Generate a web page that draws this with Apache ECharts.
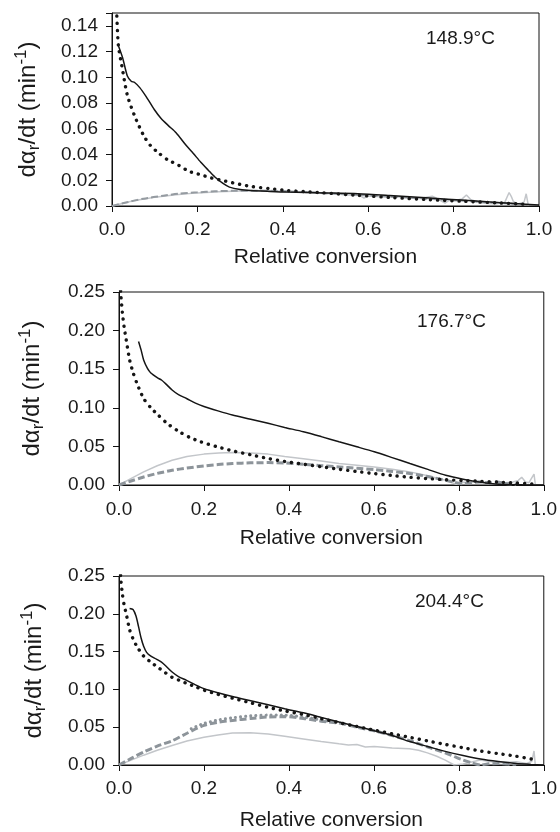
<!DOCTYPE html>
<html>
<head>
<meta charset="utf-8">
<script src="https://cdn.jsdelivr.net/npm/echarts@6/dist/echarts.min.js"></script>
<style>html,body{margin:0;padding:0;background:#fff;}#c{width:560px;height:832px;}</style>
</head>
<body>
<div id="c"></div>
<script>
// ---------- data ----------
const temps = ['148.9°C', '176.7°C', '204.4°C'];
const yMax = [0.15, 0.25, 0.25];
const yStep = [0.02, 0.05, 0.05];

// Panel 1 (148.9°C)
const p1SolidX = [0.015,0.025,0.036,0.045,0.053,0.065,0.08,0.099,0.115,0.132,0.15,0.174,0.19,0.208,0.225,0.241,0.26,0.275,0.3,0.325,0.37,0.409,0.5,0.576,0.65,0.744,0.827,0.911,0.96,1.0];
const p1SolidY = [0.1245,0.115,0.101,0.097,0.096,0.092,0.085,0.075,0.068,0.0625,0.057,0.047,0.041,0.034,0.028,0.0225,0.0175,0.0147,0.0128,0.012,0.0113,0.0108,0.0102,0.0096,0.0082,0.0062,0.0044,0.0026,0.0015,0.0008];
const p1DotX = [0.008,0.011,0.015,0.023,0.036,0.053,0.074,0.09,0.107,0.13,0.157,0.18,0.208,0.23,0.258,0.29,0.325,0.37,0.409,0.45,0.492,0.576,0.66,0.744,0.827,0.911,0.97];
const p1DotY = [0.175,0.15,0.1245,0.109,0.086,0.070,0.0548,0.047,0.0418,0.036,0.0315,0.027,0.0243,0.022,0.0199,0.0175,0.0152,0.0135,0.0121,0.0112,0.0103,0.0083,0.0065,0.0049,0.0036,0.0023,0.0013];
const p1DashX = [0,0.03,0.074,0.12,0.157,0.2,0.241,0.28,0.325,0.37,0.409,0.45,0.5,0.6,0.7,0.8,0.9,0.96];
const p1DashY = [0,0.0025,0.0057,0.008,0.0096,0.0106,0.0114,0.0118,0.0119,0.0118,0.0114,0.0108,0.010,0.0082,0.0064,0.0045,0.0025,0.0012];
const p1LightX = [0,0.05,0.1,0.15,0.2,0.25,0.3,0.35,0.4,0.43,0.45,0.5,0.53,0.55,0.58,0.59,0.6,0.63,0.65,0.7,0.72,0.75,0.76,0.78,0.79,0.8,0.82,0.83,0.84,0.86,0.88,0.9,0.92,0.93,0.935,0.94,0.95,0.965,0.97,0.975];
const p1LightY = [0,0.004,0.0068,0.0088,0.0102,0.011,0.0116,0.012,0.0115,0.0108,0.0112,0.0098,0.0093,0.0085,0.0082,0.0062,0.0078,0.0072,0.0074,0.0064,0.0058,0.0076,0.006,0.0022,0.0045,0.004,0.0055,0.0085,0.005,0.0025,0.002,0.0018,0.003,0.0105,0.0075,0.0035,0.0015,0.003,0.0095,0.0005];

// Panel 2 (176.7°C)
const p2SolidX = [0.046,0.052,0.058,0.067,0.075,0.09,0.1,0.112,0.125,0.14,0.159,0.18,0.2,0.233,0.267,0.31,0.351,0.39,0.434,0.476,0.518,0.56,0.601,0.643,0.685,0.727,0.769,0.81,0.852,0.894,0.95,1.0];
const p2SolidY = [0.186,0.175,0.162,0.151,0.145,0.139,0.136,0.130,0.123,0.117,0.112,0.106,0.1016,0.096,0.0907,0.0853,0.0799,0.0746,0.069,0.0627,0.056,0.0495,0.043,0.0355,0.0278,0.0202,0.0126,0.0075,0.0035,0.001,0.0003,0];
const p2DotX = [0.002,0.004,0.008,0.012,0.017,0.025,0.033,0.042,0.058,0.075,0.092,0.115,0.142,0.165,0.192,0.23,0.267,0.31,0.351,0.39,0.434,0.476,0.518,0.56,0.601,0.643,0.685,0.727,0.769,0.81,0.852,0.894,0.936,0.973];
const p2DotY = [0.27,0.249,0.223,0.205,0.188,0.162,0.146,0.132,0.112,0.1,0.0907,0.079,0.069,0.062,0.056,0.0497,0.0443,0.0392,0.0343,0.0305,0.0269,0.0236,0.0204,0.0175,0.0148,0.0123,0.010,0.0083,0.0069,0.0058,0.0048,0.0037,0.0026,0.0013];
const p2LightX = [0,0.03,0.058,0.09,0.125,0.16,0.2,0.235,0.267,0.31,0.351,0.39,0.434,0.476,0.518,0.56,0.601,0.643,0.685,0.727,0.769,0.794,0.81,0.827,0.845,0.86,0.878,0.894,0.91,0.927,0.94,0.948,0.957,0.965,0.977,0.98];
const p2LightY = [0,0.009,0.017,0.025,0.032,0.037,0.040,0.0415,0.042,0.0415,0.040,0.037,0.034,0.031,0.028,0.0257,0.0234,0.0205,0.017,0.012,0.006,0.001,0.0035,0.0026,0.005,0.004,0.0015,0.0017,0.003,0.004,0.006,0.010,0.004,0.003,0.014,0.001];
const p2DashX = [0,0.03,0.058,0.09,0.125,0.16,0.2,0.233,0.267,0.31,0.351,0.39,0.434,0.476,0.518,0.56,0.601,0.643,0.685,0.727,0.769,0.79,0.81,0.83,0.85,0.87,0.89,0.91,0.935];
const p2DashY = [0,0.0055,0.0104,0.015,0.019,0.022,0.0247,0.0265,0.0278,0.0287,0.029,0.0285,0.027,0.025,0.0234,0.0218,0.020,0.0176,0.0148,0.011,0.006,0.0035,0.0017,0.003,0.004,0.0028,0.004,0.002,0.001];

// Panel 3 (204.4°C)
const p3SolidX = [0.025,0.033,0.04,0.046,0.052,0.058,0.065,0.075,0.088,0.1,0.112,0.125,0.14,0.159,0.18,0.2,0.233,0.267,0.31,0.351,0.39,0.434,0.476,0.518,0.56,0.601,0.643,0.684,0.726,0.768,0.81,0.851,0.893,0.935,0.97,1.0];
const p3SolidY = [0.207,0.2056,0.197,0.183,0.168,0.157,0.149,0.144,0.14,0.136,0.13,0.123,0.117,0.112,0.106,0.101,0.0955,0.0905,0.085,0.0797,0.0745,0.069,0.063,0.0569,0.051,0.0453,0.039,0.031,0.0245,0.018,0.0125,0.0078,0.0045,0.002,0.0008,0];
const p3DotX = [0.002,0.004,0.008,0.012,0.017,0.025,0.033,0.042,0.058,0.075,0.092,0.108,0.125,0.142,0.159,0.18,0.2,0.233,0.267,0.31,0.351,0.39,0.434,0.476,0.518,0.56,0.601,0.643,0.684,0.726,0.768,0.81,0.851,0.893,0.935,0.972];
const p3DotY = [0.27,0.248,0.226,0.212,0.2,0.179,0.167,0.157,0.144,0.136,0.129,0.1225,0.116,0.112,0.108,0.1035,0.099,0.0935,0.0884,0.0822,0.0763,0.0715,0.0668,0.0614,0.056,0.051,0.0461,0.0413,0.0366,0.0319,0.0272,0.0228,0.0185,0.015,0.0116,0.0078];
const p3DashX = [0,0.03,0.058,0.09,0.125,0.16,0.2,0.233,0.267,0.31,0.351,0.39,0.434,0.476,0.518,0.56,0.601,0.643,0.684,0.726,0.768,0.79,0.81,0.83,0.851,0.87,0.893,0.915,0.935];
const p3DashY = [0,0.009,0.0172,0.025,0.032,0.042,0.0525,0.0565,0.059,0.0615,0.0635,0.064,0.0616,0.058,0.0555,0.050,0.0453,0.039,0.0323,0.024,0.016,0.011,0.0065,0.003,0,0.0015,0.002,0.0012,0.001];
const p3GrayDotX = [0.17,0.2,0.233,0.267,0.31,0.351,0.39,0.434,0.476,0.5];
const p3GrayDotY = [0.048,0.055,0.0595,0.0625,0.065,0.066,0.066,0.0635,0.0595,0.057];
const p3LightX = [0,0.03,0.058,0.09,0.125,0.16,0.2,0.233,0.267,0.309,0.351,0.39,0.434,0.476,0.518,0.54,0.56,0.58,0.601,0.643,0.684,0.705,0.726,0.748,0.768,0.789,0.81,0.83,0.85,0.87,0.893,0.915,0.935,0.96,0.972,0.977,0.98];
const p3LightY = [0,0.0068,0.013,0.0195,0.0259,0.0318,0.0366,0.0398,0.0422,0.0427,0.041,0.038,0.0345,0.031,0.028,0.0265,0.027,0.0238,0.0246,0.0225,0.0216,0.0195,0.016,0.0115,0.0065,0,0.0013,0.004,0.0065,0.005,0.003,0.0038,0.0043,0.002,0.005,0.0185,0];

// ---------- chart ----------
const zip = (xs, ys) => xs.map((x, i) => [x, ys[i]]);
const FONT = 'Liberation Sans, Arial, sans-serif';
const TXT = '#1a1a1a';

const grids = [
  {left: 112, top: 13, width: 427, height: 193},
  {left: 119, top: 292, width: 426, height: 193},
  {left: 119, top: 576, width: 426, height: 192}
];
const xNameGap = [41, 43, 45];
const xLabelMargin = [14, 15, 14];
const yNameGap = [69, 72, 70];

const styles = {
  solid: {color: '#151515', width: 1.5, type: 'solid'},
  dot: {color: '#151515', width: 3.4, type: [0.1, 7], cap: 'round'},
  light: {color: '#c3c6ca', width: 1.5, type: 'solid'},
  dash: {color: '#8d949a', width: 3, type: [7, 3]},
  dash1: {color: '#959ba1', width: 2, type: [7, 3]},
  grayDot: {color: '#8d949a', width: 3, type: [0.1, 5], cap: 'round'}
};

const panels = [
  [['light', p1LightX, p1LightY], ['dash1', p1DashX, p1DashY], ['solid', p1SolidX, p1SolidY], ['dot', p1DotX, p1DotY]],
  [['light', p2LightX, p2LightY], ['dash', p2DashX, p2DashY], ['solid', p2SolidX, p2SolidY], ['dot', p2DotX, p2DotY]],
  [['light', p3LightX, p3LightY], ['grayDot', p3GrayDotX, p3GrayDotY], ['dash', p3DashX, p3DashY], ['solid', p3SolidX, p3SolidY], ['dot', p3DotX, p3DotY]]
];

const isGridMultiple = i => Math.abs(Math.round(yMax[i] / yStep[i]) * yStep[i] - yMax[i]) < 1e-9;

const option = {
  animation: false,
  backgroundColor: '#fff',
  grid: grids.map(g => Object.assign({show: true, borderColor: '#111', borderWidth: 1, backgroundColor: 'transparent'}, g)),
  xAxis: grids.map((g, i) => ({
    type: 'value', gridIndex: i, min: 0, max: 1, interval: 0.2,
    name: 'Relative conversion', nameLocation: 'middle', nameGap: xNameGap[i],
    nameTextStyle: {fontFamily: FONT, fontSize: 21, color: TXT},
    axisLine: {show: true, lineStyle: {color: '#111', width: 1}},
    axisTick: {show: true, inside: false, length: 6, lineStyle: {color: '#111'}},
    axisLabel: {fontFamily: FONT, fontSize: 19, color: TXT, margin: xLabelMargin[i], formatter: v => v.toFixed(1)},
    splitLine: {show: false}
  })),
  yAxis: grids.map((g, i) => ({
    type: 'value', gridIndex: i, min: 0, max: yMax[i], interval: yStep[i],
    name: '{n|dα}{sub|r}{n|/dt (min}{sup|-1}{n|)}',
    nameLocation: 'middle', nameRotate: 90, nameGap: yNameGap[i],
    nameTextStyle: {
      fontFamily: FONT, fontSize: 24, color: TXT,
      rich: {
        n: {fontFamily: FONT, fontSize: 24, color: TXT, lineHeight: 30},
        sub: {fontFamily: FONT, fontSize: 17, color: TXT, verticalAlign: 'bottom', lineHeight: 17},
        sup: {fontFamily: FONT, fontSize: 17, color: TXT, verticalAlign: 'top', lineHeight: 17}
      }
    },
    axisLine: {show: true, lineStyle: {color: '#111', width: 1}},
    axisTick: {show: true, inside: false, length: 6, lineStyle: {color: '#111'}},
    axisLabel: {fontFamily: FONT, fontSize: 19, color: TXT, margin: 14,
      formatter: v => (!isGridMultiple(i) && Math.abs(v - yMax[i]) < 1e-9) ? '' : v.toFixed(2)},
    splitLine: {show: false}
  })),
  series: panels.flatMap((list, i) => list.map(([st, xs, ys]) => ({
    type: 'line', xAxisIndex: i, yAxisIndex: i,
    data: zip(xs, ys), symbol: 'none', smooth: st === 'light' ? false : 0.25,
    clip: true, lineStyle: styles[st], z: st === 'light' ? 2 : 3
  }))),
  graphic: [
    {type: 'text', left: 426, top: 29, style: {text: temps[0], font: '19px ' + FONT, fill: TXT}},
    {type: 'text', left: 417, top: 312, style: {text: temps[1], font: '19px ' + FONT, fill: TXT}},
    {type: 'text', left: 415, top: 592, style: {text: temps[2], font: '19px ' + FONT, fill: TXT}}
  ]
};

const chart = echarts.init(document.getElementById('c'), null, {renderer: 'canvas'});
chart.setOption(option);
</script>
</body>
</html>
